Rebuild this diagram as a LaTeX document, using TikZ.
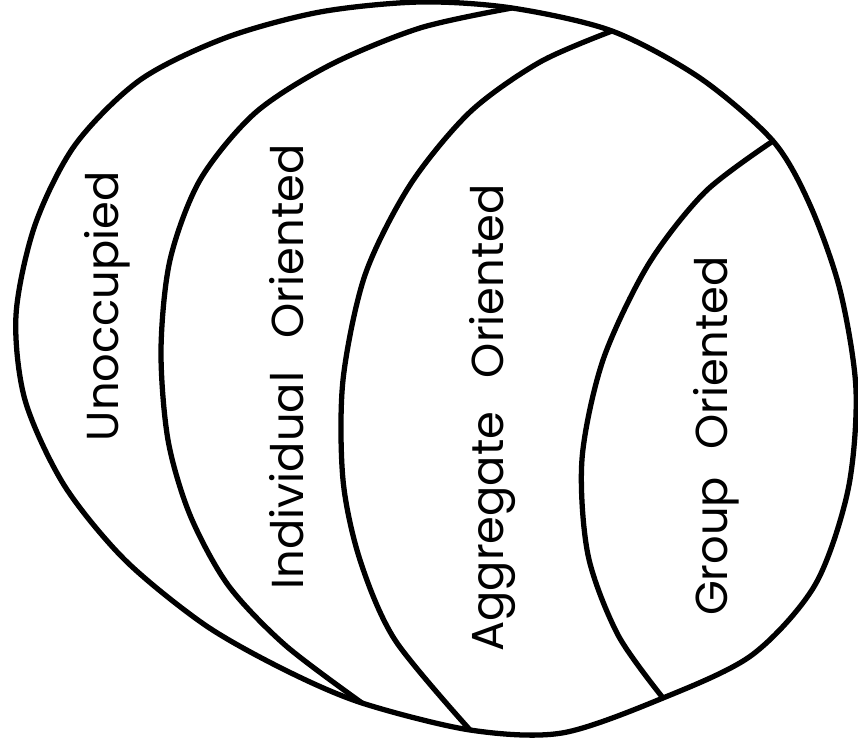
\documentclass[tikz,border=0pt]{standalone}
\usepackage{fontspec}
\setmainfont{Poppins}

\begin{document}
\begin{tikzpicture}[x=0.02cm,y=-0.02cm,line width=3pt,line join=round,
    region/.style={rotate=90,anchor=base,inner sep=0pt,
      font=\fontsize{25.5}{30}\selectfont}]
    \useasboundingbox (0,0) rectangle (858,746);
    % where the inner arcs meet the outline
    \coordinate (itop) at (512,8);
    \coordinate (ibot) at (362,703);
    \coordinate (atop) at (612,31);
    \coordinate (abot) at (470,730);
    \coordinate (gtop) at (773,141);
    \coordinate (gbot) at (663,698);
    % outline of the whole space, pointed at the lower left
    \draw plot[smooth cycle] coordinates {(itop) (420,2) (320,12)
      (225,38) (140,80) (75,145) (35,225) (16,315) (25,400) (64,485)
      (125,560) (205,625) (285,670) (ibot) (abot) (562,733) (gbot)
      (752,655) (815,585) (848,490) (856,390) (840,290) (810,205)
      (gtop) (700,78) (atop)};
    % arc that closes off the unoccupied part
    \draw plot[smooth] coordinates {(itop) (420,28) (330,65) (255,113)
      (200,180) (170,260) (161,350) (168,440) (190,515) (228,585)
      (285,645) (ibot)};
    % arc between individual and aggregate
    \draw plot[smooth] coordinates {(atop) (540,62) (470,112) (410,185)
      (365,275) (343,380) (343,480) (360,560) (395,640) (abot)};
    % arc around the group part
    \draw plot[smooth] coordinates {(gtop) (705,192) (648,265)
      (603,360) (582,459) (588,555) (618,635) (gbot)};
    % labels, read from bottom to top
    \node[region] (unocc) at (118,306) {Unoccupied};
    \node[region] (indiv) at (303,367) {Individual\hspace{0.75em}Oriented};
    \node[region] (aggr) at (503,418) {Aggregate\hspace{0.75em}Oriented};
    \node[region] (group) at (727,436) {Group\hspace{0.6em}Oriented};
\end{tikzpicture}
\end{document}
